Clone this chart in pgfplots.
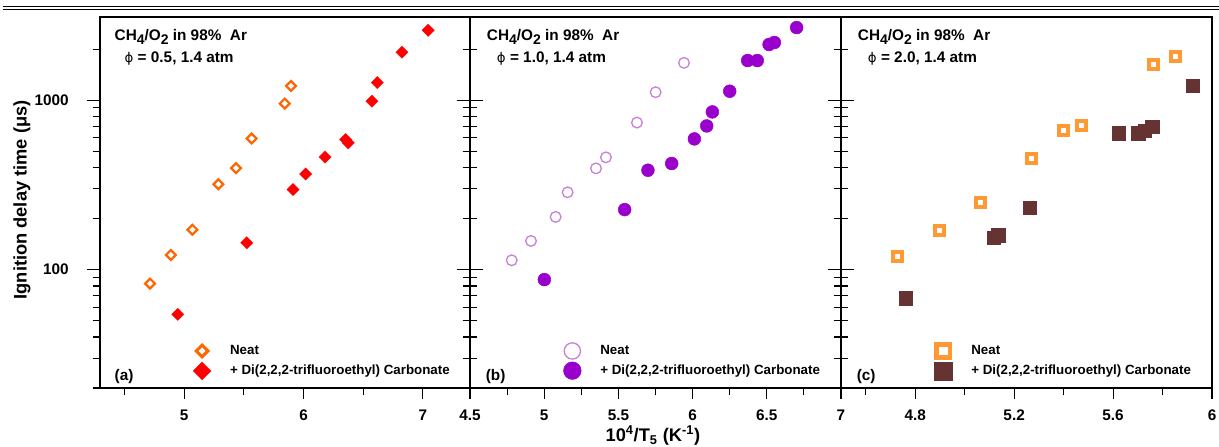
\documentclass[border=0pt]{standalone}
\usepackage{fontspec}
\setmainfont{Liberation Sans}
\newfontfamily\dejavu{DejaVu Sans}
\usepackage{pgfplots}
\pgfplotsset{compat=1.18}

\definecolor{orA}{RGB}{255,102,0}
\definecolor{redA}{RGB}{255,0,0}
\definecolor{lilB}{RGB}{200,130,215}
\definecolor{purB}{RGB}{153,0,204}
\definecolor{orC}{RGB}{255,153,51}
\definecolor{brC}{RGB}{102,51,51}

\newcommand{\tfont}{\bfseries\fontsize{11.5}{13}\selectfont}
\newcommand{\lfont}{\bfseries\fontsize{10}{12}\selectfont}
\newcommand{\labfont}{\bfseries\fontsize{13.7}{16}\selectfont}
\newcommand{\lsub}[1]{\raisebox{-0.4ex}{\fontsize{10.5}{12}\selectfont #1}}
\newcommand{\phisym}{{\dejavu\mdseries\fontsize{10}{12}\selectfont ϕ}}

\pgfplotsset{
  legend image code/.code={\path[draw=none,fill=none] (-9pt,-5pt) rectangle (9pt,5pt); \draw[#1] plot coordinates {(0pt,0pt)};},
  idtpanel/.style={
    scale only axis, height=278.25pt,
    ymin=20, ymax=3100,
    % short ticks are the plain ticks, the long labelled ones are extra ticks
    ytick={20,30,40,50,60,70,80,90,200,300,400,500,600,700,800,900,2000},
    yticklabels={}, xticklabels={},
    extra y ticks={100,1000},
    extra y tick style={major tick length=10pt},
    extra x tick style={major tick length=8pt},
    axis line style={line width=1.5pt},
    every tick/.style={black, line width=0.8pt},
    major tick length=5.5pt, minor tick length=5pt,
    tick align=outside,
    xtick pos=left,
    ticklabel style={font=\tfont},
    xticklabel style={inner sep=1pt, yshift=-7.5pt},
    yticklabel style={xshift=-10pt},
    /pgf/number format/assume math mode=true,
    legend style={draw=none, fill=none, font=\lfont, row sep=2pt, column sep=10pt,
      at={(axis description cs:0.232,0.13)}, anchor=north west},
    legend cell align=left,
  },
}

\begin{document}
\begin{tikzpicture}

% (a) phi = 0.5
\begin{semilogyaxis}[idtpanel, width=277.5pt, at={(75pt,43.5pt)}, anchor=south west,
  xmin=4.296, xmax=7.394,
  xtick={4.5,5.5,6.5},
  extra x ticks={5,6,7}, extra x tick labels={5,6,7},
  ytick pos=both,
  extra y tick labels={100,1000},
  ylabel={Ignition delay time (μs)},
  ylabel style={font=\labfont, at={(axis description cs:-0.211,0.507)}, anchor=center},
]
\addlegendimage{only marks, mark=square, mark size=3.1pt, mark options={rotate=45, draw=orA, fill=white, line width=2.3pt}}
\addlegendentry{Neat}
\addlegendimage{only marks, mark=square*, mark size=4.8pt, mark options={rotate=45, draw=redA, fill=redA, line width=0.1pt}}
\addlegendentry{+ Di(2,2,2-trifluoroethyl) Carbonate}

\addplot[forget plot, only marks, mark=square, mark size=2.6pt,
  mark options={rotate=45, draw=orA, fill=white, line width=1.7pt}]
coordinates {
(4.715,82.7) (4.889,122) (5.07,172) (5.287,319) (5.435,397)
(5.566,594) (5.843,956) (5.895,1215)
};
\addplot[forget plot, only marks, mark=square*, mark size=3.3pt,
  mark options={rotate=45, draw=redA, fill=redA, line width=0.1pt}]
coordinates {
(4.947,54.4) (5.525,144) (5.912,297) (6.018,367) (6.18,462)
(6.353,586) (6.375,560) (6.573,987) (6.618,1271) (6.824,1922) (7.044,2588)
};

\node[anchor=west, font=\tfont] at (rel axis cs:0.027,0.946) {CH\lsub{4}/O\lsub{2} in 98\%~ Ar};
\node[anchor=west, font=\tfont] at (rel axis cs:0.054,0.889) {\phisym{} = 0.5, 1.4 atm};
\node[anchor=west, font=\tfont] at (rel axis cs:0.027,0.03) {(a)};
\end{semilogyaxis}

% (b) phi = 1.0
\begin{semilogyaxis}[idtpanel, width=278.25pt, at={(352.5pt,43.5pt)}, anchor=south west,
  xmin=4.5, xmax=7,
  xtick={4.75,5.25,5.75,6.25,6.75},
  extra x ticks={4.5,5,5.5,6,6.5,7}, extra x tick labels={4.5,5,5.5,6,6.5,7},
  ytick pos=both,
  extra y tick labels={},
  xlabel={10\textsuperscript{4}/T\textsubscript{5} (K\textsuperscript{-1})},
  xlabel style={font=\labfont, inner sep=0pt, at={(axis description cs:0.493,-0.155)}, anchor=south},
]
\addlegendimage{only marks, mark=o, mark size=6.1pt, mark options={draw=lilB, line width=1pt}}
\addlegendentry{Neat}
\addlegendimage{only marks, mark=*, mark size=6.6pt, mark options={draw=purB, fill=purB}}
\addlegendentry{+ Di(2,2,2-trifluoroethyl) Carbonate}

\addplot[forget plot, only marks, mark=o, mark size=4pt,
  mark options={draw=lilB, line width=1pt}]
coordinates {
(4.781,113.5) (4.911,147.6) (5.077,204.6) (5.158,286) (5.349,396)
(5.416,460) (5.625,738) (5.751,1115) (5.942,1662)
};
\addplot[forget plot, only marks, mark=*, mark size=4.8pt,
  mark options={draw=purB, fill=purB}]
coordinates {
(5.001,87.3) (5.542,226) (5.699,386) (5.859,423) (6.012,591)
(6.095,705) (6.133,853) (6.25,1130) (6.371,1715) (6.436,1715)
(6.515,2133) (6.551,2192) (6.701,2685)
};

\node[anchor=west, font=\tfont] at (rel axis cs:0.033,0.946) {CH\lsub{4}/O\lsub{2} in 98\%~ Ar};
\node[anchor=west, font=\tfont] at (rel axis cs:0.06,0.889) {\phisym{} = 1.0, 1.4 atm};
\node[anchor=west, font=\tfont] at (rel axis cs:0.03,0.03) {(b)};
\end{semilogyaxis}

% (c) phi = 2.0
\begin{semilogyaxis}[idtpanel, width=278.25pt, at={(630.75pt,43.5pt)}, anchor=south west,
  xmin=4.5, xmax=6,
  xtick={4.6,5.0,5.4,5.8},
  extra x ticks={4.8,5.2,5.6,6}, extra x tick labels={4.8,5.2,5.6,6},
  ytick pos=left,
  extra y tick labels={},
]
\addlegendimage{only marks, mark=square, mark size=5pt, mark options={draw=orC, fill=white, line width=3.4pt}}
\addlegendentry{Neat}
\addlegendimage{only marks, mark=square*, mark size=6.8pt, mark options={draw=brC, fill=brC, line width=0.1pt}}
\addlegendentry{+ Di(2,2,2-trifluoroethyl) Carbonate}

\addplot[forget plot, only marks, mark=square, mark size=3.4pt,
  mark options={draw=orC, fill=white, line width=3pt}]
coordinates {
(4.73,120) (4.9,170) (5.065,248) (5.27,452) (5.4,662)
(5.472,708) (5.762,1633) (5.854,1820)
};
\addplot[forget plot, only marks, mark=square*, mark size=5pt,
  mark options={draw=brC, fill=brC, line width=0.1pt}]
coordinates {
(4.762,68) (5.116,155) (5.135,160) (5.262,232) (5.622,641)
(5.701,641) (5.728,659) (5.758,701) (5.922,1215)
};

\node[anchor=west, font=\tfont] at (rel axis cs:0.033,0.946) {CH\lsub{4}/O\lsub{2} in 98\%~ Ar};
\node[anchor=west, font=\tfont] at (rel axis cs:0.06,0.889) {\phisym{} = 2.0, 1.4 atm};
\node[anchor=west, font=\tfont] at (rel axis cs:0.03,0.03) {(c)};
\end{semilogyaxis}

% rule above the figure
\draw[line width=0.8pt] (2pt,329.6pt) -- (914.25pt,329.6pt);
\draw[line width=0.8pt] (2pt,327.4pt) -- (914.25pt,327.4pt);

\pgfresetboundingbox
\useasboundingbox (0,0) rectangle (914.25pt,334.5pt);
\end{tikzpicture}
\end{document}
